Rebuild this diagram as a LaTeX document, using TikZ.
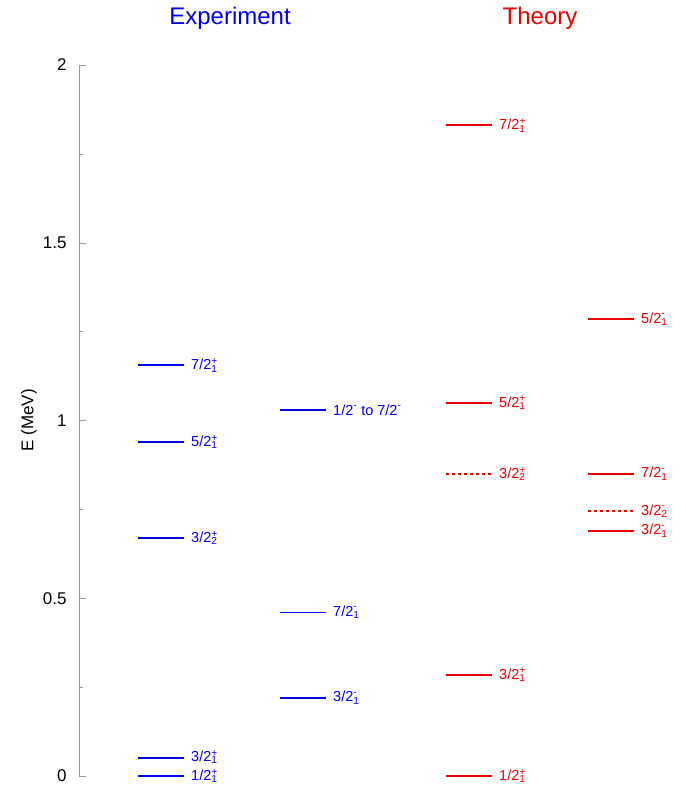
\documentclass[tikz,border=0pt]{standalone}
\usepackage{fontspec}
\setmainfont{Liberation Sans}
\definecolor{expblue}{RGB}{0,0,240}
\definecolor{thred}{RGB}{235,0,0}
\newcommand\jst[3]{#1\rlap{\textsuperscript{#2}}\textsubscript{#3}}
\newcommand\mns{\raisebox{0.3ex}{-}}
% \lev[style]{name}{x}{E}{label}
\newcommand\lev[5][]{%
  \draw[lvl, #1] (#3,#4) -- ++(46,0) coordinate (#2);
  \node[lab, #1] (#2l) at ([xshift=7pt]#2) {#5};}
\tikzset{
  lvl/.style={line width=1.9pt, solid},
  lab/.style={anchor=west,font=\fontsize{14.5}{16}\selectfont,inner sep=0pt, solid},
}
\begin{document}
\begin{tikzpicture}[x=1pt, y=355.5pt]
\useasboundingbox (-79,-0.0703) rectangle (606,2.1828);
% axis
\draw[gray!80, line width=0.8pt] (0,0) -- (0,2);
\foreach \e in {0,0.5,1,1.5,2} \draw[gray!80] (0,\e) -- (7,\e);
\foreach \e in {0.25,0.75,1.25,1.75} \draw[gray!80] (0,\e) -- (4,\e);
\foreach \e/\t in {0/0,0.5/0.5,1/1,1.5/1.5,2/2}
  \node[anchor=east, font=\fontsize{17}{19}\selectfont] at (-9,\e) {\t};
\node[rotate=90, font=\fontsize{17}{19}\selectfont] (ylab) at (-50,1) {E (MeV)};
% titles
\node[expblue, font=\fontsize{24}{26}\selectfont] (exptitle) at (151,2.131) {Experiment};
\node[thred, font=\fontsize{24}{26}\selectfont] (thtitle) at (461,2.131) {Theory};
% experiment
\lev[expblue]{ea}{59}{0}{\raisebox{-5pt}{\jst{1/2}{+}{1}}}
\lev[expblue]{eb}{59}{0.05}{\raisebox{5pt}{\jst{3/2}{+}{1}}}
\lev[expblue]{ec}{59}{0.67}{\jst{3/2}{+}{2}}
\lev[expblue]{ed}{59}{0.94}{\jst{5/2}{+}{1}}
\lev[expblue]{ee}{59}{1.155}{\jst{7/2}{+}{1}}
\lev[expblue]{ef}{201}{0.22}{\jst{3/2}{\mns}{1}}
\lev[expblue]{eg}{201}{0.46}{\jst{7/2}{\mns}{1}}
\lev[expblue]{eh}{201}{1.03}{1/2\textsuperscript{\mns} to 7/2\textsuperscript{\mns}}
% theory
\lev[thred]{ta}{367}{0}{\jst{1/2}{+}{1}}
\lev[thred]{tb}{367}{0.285}{\jst{3/2}{+}{1}}
\lev[thred, dashed]{tc}{367}{0.85}{\jst{3/2}{+}{2}}
\lev[thred]{td}{367}{1.05}{\jst{5/2}{+}{1}}
\lev[thred]{te}{367}{1.83}{\jst{7/2}{+}{1}}
\lev[thred]{tf}{509}{0.69}{\jst{3/2}{\mns}{1}}
\lev[thred, dashed]{tg}{509}{0.745}{\jst{3/2}{\mns}{2}}
\lev[thred]{th}{509}{0.85}{\jst{7/2}{\mns}{1}}
\lev[thred]{ti}{509}{1.285}{\jst{5/2}{\mns}{1}}
\end{tikzpicture}
\end{document}
